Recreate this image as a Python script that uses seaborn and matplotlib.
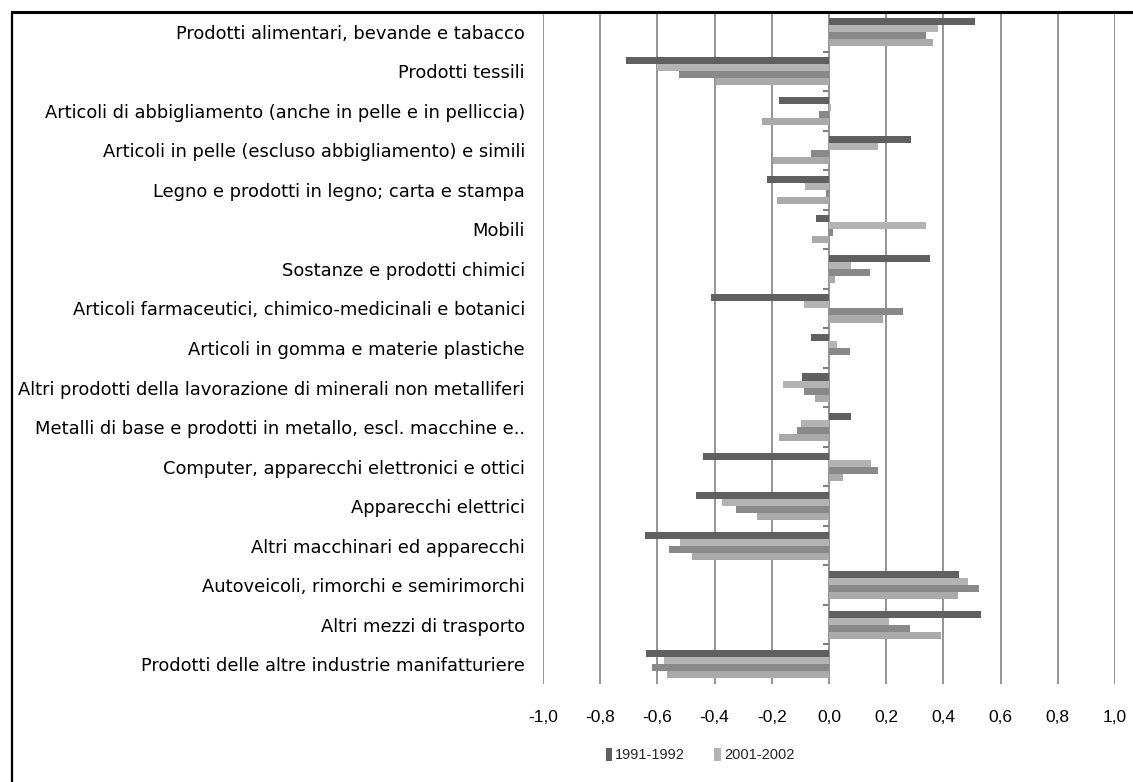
import numpy as np
import pandas as pd
import matplotlib
matplotlib.use("Agg")
import matplotlib.pyplot as plt
from matplotlib.patches import Patch
from matplotlib.lines import Line2D
from matplotlib.ticker import FuncFormatter
import seaborn as sns

categorie = [
    "Prodotti alimentari, bevande e tabacco",
    "Prodotti tessili",
    "Articoli di abbigliamento (anche in pelle e in pelliccia)",
    "Articoli in pelle (escluso abbigliamento) e simili",
    "Legno e prodotti in legno; carta e stampa",
    "Mobili",
    "Sostanze e prodotti chimici",
    "Articoli farmaceutici, chimico-medicinali e botanici",
    "Articoli in gomma e materie plastiche",
    "Altri prodotti della lavorazione di minerali non metalliferi",
    "Metalli di base e prodotti in metallo, escl. macchine e..",
    "Computer, apparecchi elettronici e ottici",
    "Apparecchi elettrici",
    "Altri macchinari ed apparecchi",
    "Autoveicoli, rimorchi e semirimorchi",
    "Altri mezzi di trasporto",
    "Prodotti delle altre industrie manifatturiere",
]

serie_1991_1992 = [0.509, -0.711, -0.175, 0.288, -0.217, -0.045, 0.354, -0.413, -0.062,
                   -0.096, 0.076, -0.442, -0.465, -0.643, 0.455, 0.533, -0.640]
serie_2001_2002 = [0.381, -0.603, 0.007, 0.172, -0.085, 0.338, 0.078, -0.089, 0.028,
                   -0.160, -0.098, 0.146, -0.374, -0.522, 0.485, 0.210, -0.577]
serie_3 = [0.340, -0.526, -0.035, -0.064, -0.012, 0.015, 0.142, 0.260, 0.072,
           -0.086, -0.112, 0.172, -0.324, -0.559, 0.526, 0.284, -0.620]
serie_4 = [0.364, -0.396, -0.233, -0.195, -0.183, -0.058, 0.022, 0.189, 0.0,
           -0.048, -0.176, 0.049, -0.251, -0.479, 0.452, 0.392, -0.566]

nomi_serie = ["1991-1992", "2001-2002", "serie 3", "serie 4"]
valori_serie = [serie_1991_1992, serie_2001_2002, serie_3, serie_4]
colori = ["#606060", "#b3b3b3", "#898989", "#aaaaaa"]

x_ticks = [-1.0, -0.8, -0.6, -0.4, -0.2, 0.0, 0.2, 0.4, 0.6, 0.8, 1.0]

rows = []
for nome, vals in zip(nomi_serie, valori_serie):
    for c, v in zip(categorie, vals):
        rows.append({"categoria": c, "serie": nome, "valore": v})
df = pd.DataFrame(rows)

sns.set_style("white")
plt.rcParams["font.family"] = ["DejaVu Sans"]

W, H = 1133, 782
fig = plt.figure(figsize=(W / 100, H / 100), dpi=100)
ax = fig.add_axes([543 / W, 1 - 684 / H, (1115 - 543) / W, (684 - 12) / H])

sns.barplot(data=df, x="valore", y="categoria", hue="serie", orient="h",
            order=categorie, hue_order=nomi_serie, palette=colori,
            width=0.71, saturation=1, linewidth=0, legend=False, ax=ax)

ax.set_xlim(-1, 1)
ax.set_ylim(len(categorie) - 0.5, -0.5)
ax.set_xticks(x_ticks)
ax.xaxis.set_major_formatter(FuncFormatter(lambda v, p: f"{v:.1f}".replace(".", ",").replace("-0,0", "0,0")))
ax.set_xlabel("")
ax.set_ylabel("")
ax.grid(axis="x", color="#8c8c8c", linewidth=1.3)
ax.grid(axis="y", visible=False)
ax.set_axisbelow(True)
for s in ax.spines.values():
    s.set_visible(False)

ax.tick_params(axis="y", length=0, pad=13, labelsize=12.9, labelcolor="#000000")
ax.tick_params(axis="x", length=5, width=1, color="#8c8c8c", pad=14,
               labelsize=12.5, labelcolor="#000000", direction="out")
for lab in ax.get_xticklabels():
    lab.set_family(["Liberation Sans"])

# category tick marks on the zero axis
confini = np.arange(len(categorie) - 1) + 0.5
ax.hlines(confini, -0.022, 0, color="#808080", linewidth=1.5, zorder=3)

# chart border (left and top)
fig.add_artist(Line2D([11.5 / W, 11.5 / W], [0, 1 - 11.5 / H], color="black", linewidth=1.6))
fig.add_artist(Line2D([11.5 / W, 1], [1 - 11.5 / H, 1 - 11.5 / H], color="black", linewidth=2.2))

handles = [Patch(facecolor=colori[0], edgecolor="none"), Patch(facecolor=colori[1], edgecolor="none")]
fig.legend(handles, nomi_serie[:2], loc="center", bbox_to_anchor=(700 / W, 1 - 755 / H),
           ncol=2, frameon=False, handlelength=0.45, handleheight=1.0, handletextpad=0.2,
           columnspacing=2.0, prop={"family": ["Liberation Sans"], "size": 10.5})

fig.savefig("out.png", dpi=100, facecolor="white")
